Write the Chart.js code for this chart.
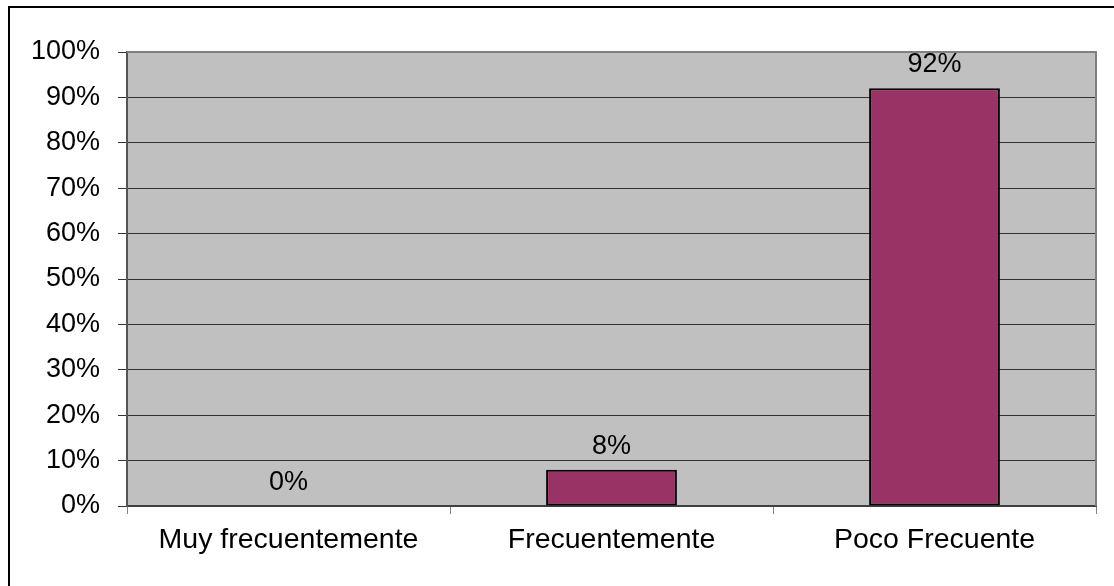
<!DOCTYPE html>
<html>
<head>
<meta charset="utf-8">
<script src="https://cdn.jsdelivr.net/npm/chart.js@4/dist/chart.umd.min.js"></script>
<style>
  html, body { margin: 0; padding: 0; background: #ffffff; }
  #wrap { width: 1114px; height: 586px; position: relative; }
</style>
</head>
<body>
<div id="wrap"><canvas id="mChart1"></canvas></div>
<script>
// chart data
var categories = ["Muy frecuentemente", "Frecuentemente", "Poco Frecuente"];
var percentages = [0, 8, 92];
var yTicks = [0, 10, 20, 30, 40, 50, 60, 70, 80, 90, 100];

var barColour = "#993366";
var fontFamily = "'Liberation Sans', Arial, sans-serif";

// gray plot area, its border and the outer frame
var frame = {
    id: 'frame',
    beforeDraw: function(chart) {
        var ctx = chart.ctx;
        var a = chart.chartArea;
        ctx.save();
        ctx.fillStyle = "#c0c0c0";
        ctx.fillRect(a.left, a.top, a.right - a.left, a.bottom - a.top);
        ctx.restore();
    },
    afterDraw: function(chart) {
        var ctx = chart.ctx;
        var a = chart.chartArea;
        ctx.save();
        // plot border top and right
        ctx.strokeStyle = "#808080";
        ctx.lineWidth = 2;
        ctx.beginPath();
        ctx.moveTo(a.left, a.top);
        ctx.lineTo(a.right, a.top);
        ctx.lineTo(a.right, a.bottom);
        ctx.stroke();
        // outer frame, only top and left show
        ctx.strokeStyle = "#000000";
        ctx.beginPath();
        ctx.moveTo(9, chart.height);
        ctx.lineTo(9, 7);
        ctx.lineTo(chart.width, 7);
        ctx.stroke();
        ctx.restore();
    }
};

// value labels over the bars
var barLabels = {
    id: 'barLabels',
    afterDatasetsDraw: function(chart) {
        var ctx = chart.ctx;
        var meta = chart.getDatasetMeta(0);
        ctx.save();
        ctx.font = "27px " + fontFamily;
        ctx.fillStyle = "#000000";
        ctx.textAlign = "center";
        ctx.textBaseline = "alphabetic";
        meta.data.forEach(function(bar, i) {
            ctx.fillText(percentages[i] + "%", bar.x, bar.y - 16);
        });
        ctx.restore();
    }
};

var ctx = document.getElementById('mChart1');
var myBarChart = new Chart(ctx, {
    type: 'bar',
    data: {
        labels: categories,
        datasets: [{
            data: percentages,
            backgroundColor: barColour,
            borderColor: "#000000",
            borderWidth: 2,
            borderSkipped: false,
            categoryPercentage: 1,
            barPercentage: 0.405
        }]
    },
    options: {
        responsive: true,
        maintainAspectRatio: false,
        animation: false,
        layout: { padding: { left: 0, top: 52, right: 18, bottom: 0 } },
        plugins: {
            legend: { display: false },
            tooltip: { enabled: false }
        },
        scales: {
            x: {
                grid: {
                    offset: true,
                    drawOnChartArea: false,
                    color: "#808080",
                    tickLength: 8
                },
                border: { color: "#404040", width: 2 },
                ticks: {
                    color: "#000000",
                    padding: 9,
                    font: { family: fontFamily, size: 28.5 },
                    maxRotation: 0
                },
                afterFit: function(scale) { scale.height = 80; }
            },
            y: {
                min: 0,
                max: 100,
                afterBuildTicks: function(scale) {
                    scale.ticks = yTicks.map(function(v) { return { value: v }; });
                },
                grid: {
                    color: "#333333",
                    lineWidth: 1,
                    tickLength: 9,
                    drawOnChartArea: true
                },
                border: { color: "#555555", width: 2 },
                ticks: {
                    color: "#000000",
                    padding: 18,
                    font: { family: fontFamily, size: 27 },
                    callback: function(v) { return v + "%"; }
                },
                afterFit: function(scale) { scale.width = 127; }
            }
        }
    },
    plugins: [frame, barLabels]
});
</script>
</body>
</html>
